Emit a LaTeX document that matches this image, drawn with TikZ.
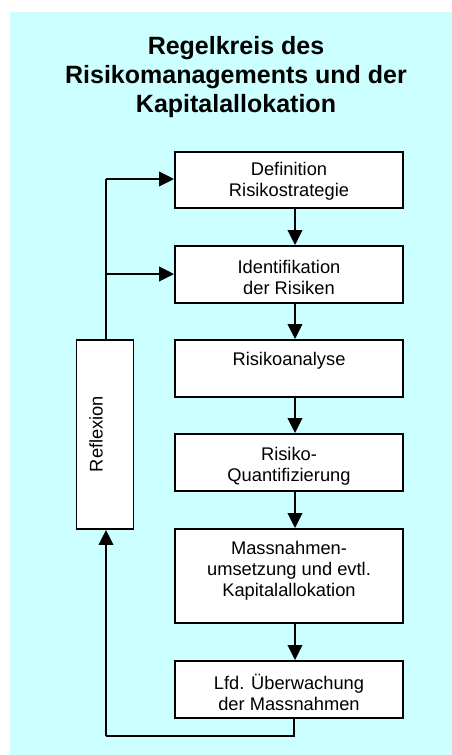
\documentclass[tikz,border=0pt]{standalone}
\usepackage{fontspec}
\setmainfont{Liberation Sans}
\usetikzlibrary{arrows.meta}
\definecolor{bgcyan}{HTML}{CCFFFF}
\begin{document}
\begin{tikzpicture}[x=1pt,y=-1pt,
  box/.style={draw=black, fill=white, line width=1.9pt, minimum width=228pt, inner sep=0pt},
  txt/.style={inner sep=0pt, align=center, font=\fontsize{18.3}{21}\selectfont},
  arr/.style={line width=1.9pt, -{Triangle[length=15pt,width=14.5pt]}},
  ln/.style={line width=1.9pt}]
\useasboundingbox (0,0) rectangle (452,755);
\fill[bgcyan] (10,12) rectangle (452,755);
\node[inner sep=0pt, align=center, font=\fontsize{25}{29}\selectfont\bfseries] (title) at (236,77)
  {Regelkreis des\\Risikomanagements und der\\Kapitalallokation};
\node[box, minimum height=56pt] (b1) at (289,180) {};
\node[box, minimum height=57pt] (b2) at (289,274.5) {};
\node[box, minimum height=57pt] (b3) at (289,368.5) {};
\node[box, minimum height=57pt] (b4) at (289,462.5) {};
\node[box, minimum height=94pt] (b5) at (289,576) {};
\node[box, minimum height=57pt] (b6) at (289,689.5) {};
\node[box, minimum width=57pt, minimum height=189pt] (refl) at (105,434.5) {};
\node[txt] (t1) at (289,181) {Definition\\Risikostrategie};
\node[txt] (t2) at (289,277.5) {Identifikation\\der Risiken};
\node[txt] (t3) at (289,361) {Risikoanalyse};
\node[txt] (t4) at (289,466) {Risiko-\\Quantifizierung};
\node[txt] (t5) at (289,571) {Massnahmen-\\umsetzung und evtl.\\Kapitalallokation};
\node[txt] (t6) at (289,692.5) {Lfd. Überwachung\\der Massnahmen};
\node[txt, rotate=90] (tr) at (96,434) {Reflexion};
\foreach \a/\b in {b1/b2,b2/b3,b3/b4,b4/b5,b5/b6}
  \draw[arr] ([xshift=6pt]\a.south) -- ([xshift=6pt]\b.north);
\coordinate (c1) at (106,736);
\draw[ln] ([xshift=5pt]b6.south) |- (c1);
\draw[arr] (c1) -- (c1 |- refl.south);
\coordinate (top) at (106,179);
\coordinate (mid) at (106,274);
\draw[ln] (refl.north -| top) -- (top);
\draw[arr] (top) -- (top -| b1.west);
\draw[arr] (mid) -- (mid -| b2.west);
\end{tikzpicture}
\end{document}
